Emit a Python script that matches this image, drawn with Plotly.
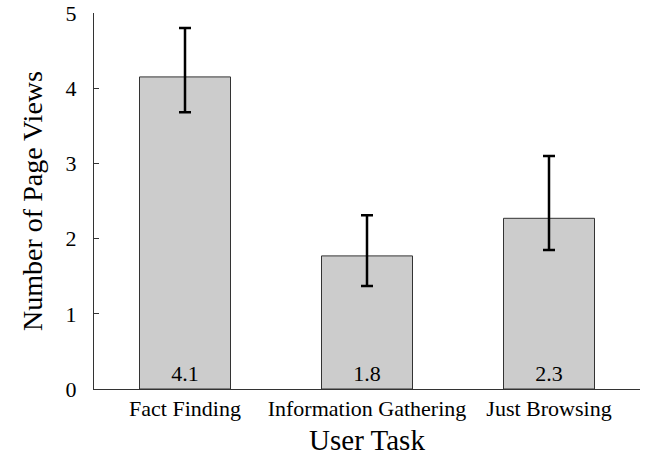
import plotly.graph_objects as go

tasks = ["Fact Finding", "Information Gathering", "Just Browsing"]
mean_views = [4.15, 1.77, 2.27]
err_upper = [4.80, 2.31, 3.10]
err_lower = [3.68, 1.37, 1.85]
value_labels = ["4.1", "1.8", "2.3"]

plus = [u - m for u, m in zip(err_upper, mean_views)]
minus = [m - l for m, l in zip(mean_views, err_lower)]

FONT = "Liberation Serif"

fig = go.Figure()
fig.add_trace(go.Bar(
    x=tasks, y=mean_views,
    width=0.5,
    marker=dict(color="#cccccc", line=dict(color="#333333", width=1)),
    text=value_labels,
    textposition="inside",
    insidetextanchor="start",
    textfont=dict(family=FONT, size=22, color="black"),
    error_y=dict(type="data", symmetric=False, array=plus, arrayminus=minus,
                 color="black", thickness=2.5, width=6),
    showlegend=False,
))

fig.update_layout(
    width=651, height=461,
    margin=dict(l=94, r=11, t=13, b=72),
    plot_bgcolor="white", paper_bgcolor="white",
    font=dict(family=FONT, color="black"),
    xaxis=dict(
        range=[-0.5, 2.5], showline=True, linecolor="#333333", linewidth=1,
        ticks="", showgrid=False, zeroline=False, automargin=False,
        tickfont=dict(family=FONT, size=22),
        title=dict(text="User Task", font=dict(family=FONT, size=29), standoff=9),
    ),
    yaxis=dict(
        range=[0, 5], showline=True, linecolor="#333333", linewidth=1,
        ticks="inside", ticklen=5, tickcolor="#333333", dtick=1,
        showgrid=False, zeroline=False, automargin=False,
        ticklabeloverflow="allow",
        tickfont=dict(family=FONT, size=22), ticklabelstandoff=12,
        title=dict(text="Number of Page Views", font=dict(family=FONT, size=28), standoff=14),
    ),
)

fig.write_html("out.html", config={"displayModeBar": False},
               post_script="document.body.style.margin='0';")
